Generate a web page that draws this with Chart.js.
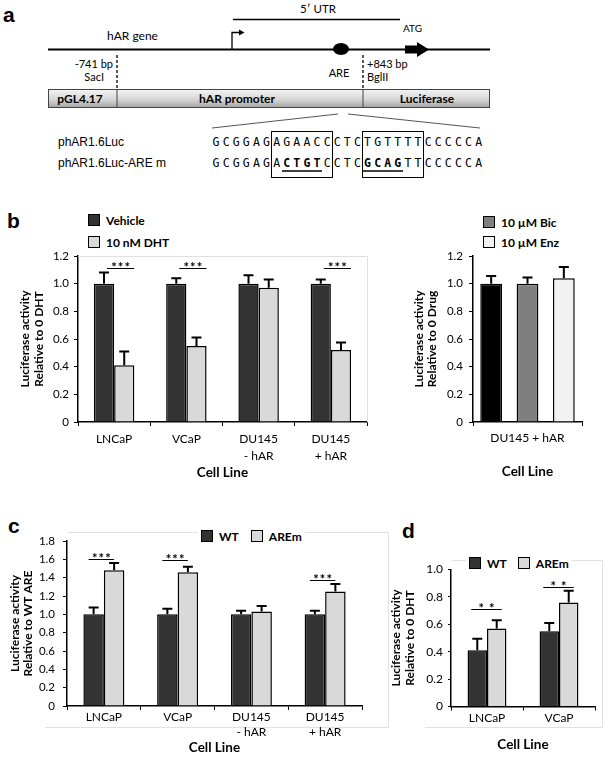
<!DOCTYPE html>
<html>
<head>
<meta charset="utf-8">
<script src="https://cdn.jsdelivr.net/npm/chart.js@4.4.1/dist/chart.umd.min.js"></script>
<style>
  body { margin: 0; width: 609px; height: 764px; position: relative; background: #fff; overflow: hidden; font-family: Lato, sans-serif; }
  canvas { position: absolute; }
  .tag { position: absolute; font: bold 21px "Liberation Sans", Arial, sans-serif; line-height: 1; }
  .leg { position: absolute; font: bold 12px Lato, sans-serif; color: #000; background: #fff; display: flex; align-items: center; height: 16px; white-space: nowrap; }
  .sw { display: inline-block; width: 10px; height: 10px; border: 1px solid #000; margin-right: 6px; }
  .fr { position: absolute; border: 0 solid #e2e2e2; }
</style>
</head>
<body>

<svg width="609" height="190" style="position:absolute;left:0;top:0" font-family="Lato, sans-serif">
  <defs>
    <linearGradient id="boxFill" x1="0" y1="0" x2="0" y2="1">
      <stop offset="0" stop-color="#f4f4f4"/>
      <stop offset="0.55" stop-color="#d6d6d6"/>
      <stop offset="1" stop-color="#a4a4a4"/>
    </linearGradient>
  </defs>
  <text x="318" y="13" text-anchor="middle" font-size="11.5">5′ UTR</text>
  <line x1="233" y1="19.5" x2="400" y2="19.5" stroke="#000" stroke-width="1.3"/>
  <text x="107" y="40" font-size="12">hAR gene</text>
  <line x1="48" y1="49.5" x2="490" y2="49.5" stroke="#000" stroke-width="2"/>
  <path d="M232 49 V32.5 H240" fill="none" stroke="#000" stroke-width="1.3"/>
  <path d="M239 29.5 L244.5 32.5 L239 35.5 Z" fill="#000"/>
  <ellipse cx="341" cy="49" rx="8" ry="6" fill="#000"/>
  <text x="403" y="32" font-size="10">ATG</text>
  <path d="M405 45.5 H417 V42 L429 49.5 L417 57 V53.5 H405 Z" fill="#000"/>
  <text x="113" y="68" text-anchor="end" font-size="11">-741 bp</text>
  <text x="104" y="81" text-anchor="end" font-size="11">SacI</text>
  <line x1="117" y1="55" x2="117" y2="89" stroke="#000" stroke-width="1.3" stroke-dasharray="3,2"/>
  <text x="339" y="77" text-anchor="middle" font-size="11">ARE</text>
  <line x1="363" y1="55" x2="363" y2="89" stroke="#000" stroke-width="1.3" stroke-dasharray="3,2"/>
  <text x="367" y="68" font-size="11">+843 bp</text>
  <text x="367" y="81" font-size="11">BglII</text>
  <rect x="48.5" y="89.5" width="441" height="18" fill="url(#boxFill)" stroke="#444" stroke-width="1"/>
  <line x1="117" y1="89.5" x2="117" y2="107.5" stroke="#444"/>
  <line x1="363" y1="89.5" x2="363" y2="107.5" stroke="#444"/>
  <text x="80" y="103" text-anchor="middle" font-size="12" font-weight="bold">pGL4.17</text>
  <text x="237" y="103" text-anchor="middle" font-size="12" font-weight="bold">hAR promoter</text>
  <text x="427" y="103" text-anchor="middle" font-size="12" font-weight="bold">Luciferase</text>
  <line x1="338" y1="114" x2="212" y2="128" stroke="#555" stroke-width="1"/>
  <line x1="348" y1="114" x2="480" y2="128" stroke="#555" stroke-width="1"/>
  <text x="58" y="146" font-family="Liberation Sans, Arial, sans-serif" font-size="12">phAR1.6Luc</text>
  <text x="58" y="167" font-family="Liberation Sans, Arial, sans-serif" font-size="12">phAR1.6Luc-ARE m</text>
  <g id="seqRows" font-family="DejaVu Sans Mono, monospace" font-size="11.5" text-anchor="middle"></g>
  <rect x="271.5" y="131.5" width="61" height="46" fill="none" stroke="#000" stroke-width="1"/>
  <rect x="362.5" y="131.5" width="61" height="46" fill="none" stroke="#000" stroke-width="1"/>
  <line x1="282" y1="171" x2="322" y2="171" stroke="#000" stroke-width="1.5"/>
  <line x1="363" y1="171" x2="403" y2="171" stroke="#000" stroke-width="1.5"/>
</svg>
<div class="tag" style="left:3px;top:4px">a</div>

<div class="tag" style="left:7px;top:210px">b</div>
<div class="leg" style="left:88px;top:212px"><span class="sw" style="background:#333"></span>Vehicle</div>
<div class="leg" style="left:88px;top:234px"><span class="sw" style="background:#d9d9d9"></span>10 nM DHT</div>
<div class="leg" style="left:483px;top:214px"><span class="sw" style="background:#7f7f7f"></span>10 µM Bic</div>
<div class="leg" style="left:483px;top:234px"><span class="sw" style="background:#f2f2f2"></span>10 µM Enz</div>

<div class="tag" style="left:8px;top:515px">c</div>
<div class="fr" style="left:67px;top:532px;width:321px;height:0;border-top-width:1px"></div>
<div class="fr" style="left:45px;top:532px;width:343px;height:195px;border-right-width:1px;border-bottom-width:1px"></div>

<div class="tag" style="left:402px;top:520px">d</div>
<div class="fr" style="left:452px;top:560px;width:150px;height:0;border-top-width:1px"></div>
<div class="fr" style="left:425px;top:560px;width:177px;height:167px;border-right-width:1px;border-bottom-width:1px"></div>

<canvas id="chartB1" width="380" height="250" style="left:0;top:240px"></canvas>
<canvas id="chartB2" width="214" height="250" style="left:395px;top:240px"></canvas>
<canvas id="chartC" width="385" height="244" style="left:0;top:520px"></canvas>
<canvas id="chartD" width="224" height="224" style="left:385px;top:540px"></canvas>

<div class="leg" style="left:198px;top:528px;padding:0 3px"><span class="sw" style="background:#333"></span>WT<span style="display:inline-block;width:12px"></span><span class="sw" style="background:#d9d9d9"></span>AREm</div>
<div class="leg" style="left:466px;top:555px;padding:0 3px"><span class="sw" style="background:#333"></span>WT<span style="display:inline-block;width:11px"></span><span class="sw" style="background:#d9d9d9"></span>AREm</div>

<script>
// panel a sequences
const seqWT = 'GCGGAGAGAACCCTCTGTTTTCCCCCA';
const seqMut = 'GCGGAGACTGTCCTCGCAGTTCCCCCA';
const mutBold = [7, 8, 9, 10, 15, 16, 17, 18];

// panel b: DHT response
const cellLines = ['LNCaP', 'VCaP', ['DU145', '- hAR'], ['DU145', '+ hAR']];
const vehicle = [1.0, 1.0, 1.0, 1.0];
const vehicleErr = [0.08, 0.04, 0.06, 0.03];
const dht = [0.41, 0.55, 0.97, 0.52];
const dhtErr = [0.10, 0.06, 0.06, 0.055];
const dhtSig = [1.11, 1.11, null, 1.11];

// panel b: antiandrogens
const drugLine = ['DU145 + hAR'];
const noDrug = [1.0];
const noDrugErr = [0.055];
const bic = [1.0];
const bicErr = [0.045];
const enz = [1.04];
const enzErr = [0.08];

// panel c: WT vs mutant ARE
const wt = [1.0, 1.0, 1.0, 1.0];
const wtErr = [0.075, 0.06, 0.04, 0.04];
const arem = [1.48, 1.46, 1.03, 1.25];
const aremErr = [0.08, 0.06, 0.06, 0.08];
const aremSig = [1.60, 1.59, null, 1.38];

// panel d: DHT repression, WT vs mutant
const dhtLines = ['LNCaP', 'VCaP'];
const wtDht = [0.41, 0.55];
const wtDhtErr = [0.085, 0.06];
const aremDht = [0.57, 0.76];
const aremDhtErr = [0.06, 0.085];
const dhtMutSig = [0.71, 0.87];

const NS = 'http://www.w3.org/2000/svg';
function seqRow(seq, y, bold) {
    const t = document.createElementNS(NS, 'text');
    t.setAttribute('y', y);
    [...seq].forEach((ch, i) => {
        const s = document.createElementNS(NS, 'tspan');
        s.setAttribute('x', 216 + i * 10.1);
        if (bold.includes(i)) s.setAttribute('font-weight', 'bold');
        s.textContent = ch;
        t.appendChild(s);
    });
    document.getElementById('seqRows').appendChild(t);
}
seqRow(seqWT, 146, []);
seqRow(seqMut, 167, mutBold);

// 오차 막대 (위쪽만)
const errorBars = {
    id: 'errorBars',
    afterDatasetsDraw(chart) {
        const ctx = chart.ctx, y = chart.scales.y;
        ctx.save();
        ctx.strokeStyle = '#000';
        ctx.lineWidth = 2;
        chart.data.datasets.forEach((ds, i) => {
            if (!ds.errors) return;
            chart.getDatasetMeta(i).data.forEach((bar, j) => {
                const top = y.getPixelForValue(ds.data[j] + ds.errors[j]);
                ctx.beginPath();
                ctx.moveTo(bar.x, bar.y);
                ctx.lineTo(bar.x, top);
                ctx.moveTo(bar.x - 5, top);
                ctx.lineTo(bar.x + 5, top);
                ctx.stroke();
            });
        });
        ctx.restore();
    }
};

// 유의성 표시 (*** 와 선)
const sigMarks = {
    id: 'sigMarks',
    afterDatasetsDraw(chart, args, opts) {
        if (!opts.levels) return;
        const ctx = chart.ctx, y = chart.scales.y;
        const a = chart.getDatasetMeta(0).data, b = chart.getDatasetMeta(1).data;
        ctx.save();
        opts.levels.forEach((lv, j) => {
            if (lv == null) return;
            const py = Math.round(y.getPixelForValue(lv)) + 0.5;
            const x0 = a[j].x + opts.from, x1 = b[j].x + opts.to;
            ctx.strokeStyle = '#000';
            ctx.lineWidth = 1;
            ctx.beginPath();
            ctx.moveTo(x0, py);
            ctx.lineTo(x1, py);
            ctx.stroke();
            ctx.fillStyle = '#000';
            ctx.font = 'bold 13px Lato';
            ctx.letterSpacing = '1px';
            ctx.textAlign = 'center';
            ctx.textBaseline = 'alphabetic';
            ctx.fillText(opts.text, (x0 + x1) / 2 + 0.5, py + 3);
        });
        ctx.restore();
    }
};

// 엑셀식 옅은 테두리
const plotFrame = {
    id: 'plotFrame',
    beforeDatasetsDraw(chart, args, opts) {
        if (!opts.show) return;
        const { ctx, chartArea: c } = chart;
        ctx.save();
        ctx.strokeStyle = '#e0e0e0';
        ctx.lineWidth = 1;
        ctx.beginPath();
        ctx.moveTo(c.left, c.top + 0.5);
        ctx.lineTo(c.right + 0.5, c.top + 0.5);
        ctx.lineTo(c.right + 0.5, c.bottom);
        ctx.stroke();
        ctx.restore();
    }
};

function barChart(id, cfg) {
    return new Chart(document.getElementById(id), {
        type: 'bar',
        data: { labels: cfg.labels, datasets: cfg.datasets },
        options: {
            responsive: false,
            animation: false,
            layout: { padding: cfg.pad },
            datasets: { bar: { categoryPercentage: cfg.cat, barPercentage: cfg.barPct || 1, borderColor: '#000', borderWidth: 1.5 } },
            plugins: {
                legend: { display: false },
                tooltip: { enabled: false },
                sigMarks: cfg.sig || {},
                plotFrame: { show: !!cfg.frame }
            },
            scales: {
                x: {
                    grid: { drawOnChartArea: false, tickLength: 4, color: '#000', offset: true },
                    border: { color: '#000', width: 1.5 },
                    ticks: { color: '#000', font: { family: 'Lato', size: 12, lineHeight: cfg.xLh }, padding: cfg.xPad, maxRotation: 0, autoSkip: false },
                    title: { display: true, text: 'Cell Line', color: '#000', font: { family: 'Lato', size: 13.5, weight: 'bold' }, padding: { top: 0, bottom: cfg.xTitlePad } },
                    afterFit: s => { s.height = cfg.xH; }
                },
                y: {
                    min: 0,
                    max: cfg.max,
                    ticks: {
                        stepSize: cfg.step || 0.2,
                        color: '#000',
                        font: { family: 'Lato', size: cfg.yFont || 11.5 },
                        padding: cfg.yPad,
                        callback: v => {
                            const r = Math.round(v * 10);
                            if (r % 2) return '';
                            return r === 0 ? '0' : (r / 10).toFixed(1);
                        }
                    },
                    grid: { drawOnChartArea: false, tickLength: cfg.yTl || 4, color: '#000' },
                    border: { color: '#000', width: 1.5 },
                    title: { display: true, text: cfg.yTitle, color: '#000', font: { family: 'Lato', size: 12, weight: 'bold', lineHeight: cfg.yTitleLh }, padding: { top: cfg.yTitlePad, bottom: 0 } },
                    afterFit: s => { s.width = cfg.yW; }
                }
            }
        },
        plugins: [plotFrame, errorBars, sigMarks]
    });
}

barChart('chartB1', {
    labels: cellLines,
    datasets: [
        { label: 'Vehicle', data: vehicle, errors: vehicleErr, backgroundColor: '#333333' },
        { label: '10 nM DHT', data: dht, errors: dhtErr, backgroundColor: '#d9d9d9' }
    ],
    pad: { top: 16, right: 13, left: 0, bottom: 0 },
    cat: 0.56, max: 1.2,
    xH: 68, xPad: 5, xLh: 1.4, xTitlePad: 9,
    yW: 78, yPad: 5,
    yTitle: ['Luciferase activity', 'Relative to 0 DHT'], yTitleLh: 1.17, yTitlePad: 18,
    sig: { levels: dhtSig, text: '***', from: 3, to: 10 },
    frame: true
});

barChart('chartB2', {
    labels: drugLine,
    datasets: [
        { label: 'Vehicle', data: noDrug, errors: noDrugErr, backgroundColor: '#000000' },
        { label: '10 µM Bic', data: bic, errors: bicErr, backgroundColor: '#7f7f7f' },
        { label: '10 µM Enz', data: enz, errors: enzErr, backgroundColor: '#f2f2f2' }
    ],
    pad: { top: 16, right: 27, left: 0, bottom: 0 },
    cat: 1.0, barPct: 0.6, max: 1.2,
    xH: 68, xPad: 4, xLh: 1.4, xTitlePad: 10,
    yW: 78, yPad: 6,
    yTitle: ['Luciferase activity', 'Relative to 0 Drug'], yTitleLh: 1.1, yTitlePad: 17.5
});

barChart('chartC', {
    labels: cellLines,
    datasets: [
        { label: 'WT', data: wt, errors: wtErr, backgroundColor: '#333333' },
        { label: 'AREm', data: arem, errors: aremErr, backgroundColor: '#d9d9d9' }
    ],
    pad: { top: 21, right: 23, left: 0, bottom: 0 },
    cat: 0.556, max: 1.8,
    xH: 58, xPad: 0, xLh: 1.25, xTitlePad: 8,
    yW: 67, yPad: 8,
    yTitle: ['Luciferase activity', 'Relative to WT ARE'], yTitleLh: 1.08, yTitlePad: 8.5,
    sig: { levels: aremSig, text: '***', from: -5, to: 0 }
});

barChart('chartD', {
    labels: dhtLines,
    datasets: [
        { label: 'WT', data: wtDht, errors: wtDhtErr, backgroundColor: '#333333' },
        { label: 'AREm', data: aremDht, errors: aremDhtErr, backgroundColor: '#d9d9d9' }
    ],
    pad: { top: 29.5, right: 14, left: 0, bottom: 0 },
    cat: 0.54, max: 1.0, step: 0.1,
    xH: 57.5, xPad: 0, xLh: 1.25, xTitlePad: 11,
    yW: 66, yPad: 5, yTl: 3, yFont: 12,
    yTitle: ['Luciferase activity', 'Relative to 0 DHT'], yTitleLh: 1.17, yTitlePad: 4,
    sig: { levels: dhtMutSig, text: '* *', from: -6, to: 5 }
});
</script>
</body>
</html>
